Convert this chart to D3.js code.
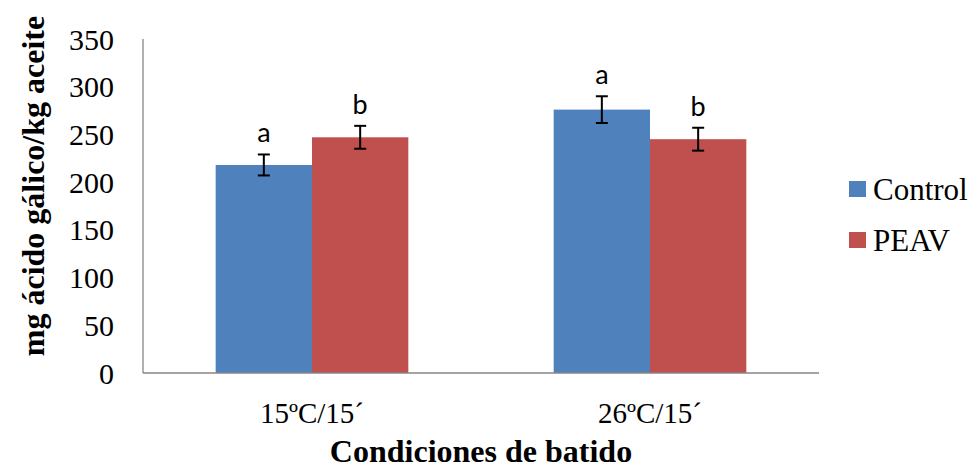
<!DOCTYPE html>
<html>
<head>
<meta charset="utf-8">
<script src="https://cdnjs.cloudflare.com/ajax/libs/d3/7.8.5/d3.min.js"></script>
<style>
  body { margin: 0; background: #fff; }
  svg { display: block; }
</style>
</head>
<body>
<svg id="chart" width="973" height="471"></svg>
<script>
// data
var categories = ["15ºC/15´", "26ºC/15´"];
var seriesNames = ["Control", "PEAV"];
var controlValues = [218, 276];
var peavValues = [247, 245];
var controlErrors = [11, 14];
var peavErrors = [12, 12];
var controlLetters = ["a", "a"];
var peavLetters = ["b", "b"];
var yTicks = [0, 50, 100, 150, 200, 250, 300, 350];
var colors = ["#4F81BD", "#C0504D"];

var serif = "'Liberation Serif', 'Times New Roman', serif";

var svg = d3.select("svg#chart"),
	margin = { top: 39, right: 154, bottom: 98, left: 143 },
	width = 973 - margin.left - margin.right,
	height = 471 - margin.top - margin.bottom;

var g = svg.append("g")
	.attr("transform", "translate(" + margin.left + "," + margin.top + ")");

var x0 = d3.scaleBand().domain(categories).range([0, width]).paddingInner(0.43).paddingOuter(0.215);
var x1 = d3.scaleBand().domain(seriesNames).range([0, x0.bandwidth()]);
var y = d3.scaleLinear().domain([0, 350]).range([height, 0]);

var rows = categories.map(function(c, i) {
	return {
		cat: c,
		items: [
			{ name: "Control", value: controlValues[i], err: controlErrors[i], letter: controlLetters[i] },
			{ name: "PEAV", value: peavValues[i], err: peavErrors[i], letter: peavLetters[i] }
		]
	};
});

// y tick labels
g.selectAll(".ylab")
	.data(yTicks)
	.enter().append("text")
	.attr("x", -29)
	.attr("y", function(d) { return y(d); })
	.attr("dy", "0.35em")
	.attr("text-anchor", "end")
	.style("font-family", serif)
	.style("font-size", "30px")
	.text(function(d) { return d; });

var grp = g.selectAll(".cat")
	.data(rows)
	.enter().append("g")
	.attr("class", "cat")
	.attr("transform", function(d) { return "translate(" + x0(d.cat) + ",0)"; });

grp.selectAll("rect")
	.data(function(d) { return d.items; })
	.enter().append("rect")
	.attr("x", function(d) { return x1(d.name); })
	.attr("y", function(d) { return y(d.value); })
	.attr("width", x1.bandwidth())
	.attr("height", function(d) { return height - y(d.value); })
	.style("fill", function(d, i) { return colors[i]; });

// error bars
var eb = grp.selectAll(".err")
	.data(function(d) { return d.items; })
	.enter().append("g")
	.attr("class", "err")
	.attr("transform", function(d) { return "translate(" + (x1(d.name) + x1.bandwidth() / 2) + ",0)"; });

eb.append("line")
	.attr("x1", 0).attr("x2", 0)
	.attr("y1", function(d) { return y(d.value + d.err); })
	.attr("y2", function(d) { return y(d.value - d.err); });
eb.append("line")
	.attr("x1", -6).attr("x2", 6)
	.attr("y1", function(d) { return y(d.value + d.err); })
	.attr("y2", function(d) { return y(d.value + d.err); });
eb.append("line")
	.attr("x1", -6).attr("x2", 6)
	.attr("y1", function(d) { return y(d.value - d.err); })
	.attr("y2", function(d) { return y(d.value - d.err); });
eb.selectAll("line").style("stroke", "#000").style("stroke-width", 2);

eb.append("text")
	.attr("x", 0)
	.attr("y", function(d) { return y(d.value + d.err) - 12; })
	.attr("text-anchor", "middle")
	.style("font-family", "Lato, 'Open Sans', sans-serif")
	.style("font-size", "27px")
	.text(function(d) { return d.letter; });

// axes lines
g.append("line")
	.attr("x1", 0).attr("x2", 0).attr("y1", 0).attr("y2", height)
	.style("stroke", "#868686").style("stroke-width", 1.3);
g.append("line")
	.attr("x1", 0).attr("x2", width).attr("y1", height).attr("y2", height)
	.style("stroke", "#868686").style("stroke-width", 1.3);

// x tick labels
g.selectAll(".xlab")
	.data(categories)
	.enter().append("text")
	.attr("x", function(d) { return x0(d) + x0.bandwidth() / 2; })
	.attr("y", 423 - margin.top)
	.attr("text-anchor", "middle")
	.style("font-family", serif)
	.style("font-size", "29px")
	.text(function(d) { return d; });

// axis titles
svg.append("text")
	.attr("x", 481)
	.attr("y", 462)
	.attr("text-anchor", "middle")
	.style("font-family", serif)
	.style("font-size", "32px")
	.style("font-weight", "bold")
	.text("Condiciones de batido");

svg.append("text")
	.attr("transform", "translate(44,186) rotate(-90)")
	.attr("text-anchor", "middle")
	.style("font-family", serif)
	.style("font-size", "32px")
	.style("font-weight", "bold")
	.text("mg ácido gálico/kg aceite");

// legend
var legend = svg.selectAll(".legend")
	.data(seriesNames)
	.enter().append("g")
	.attr("class", "legend")
	.attr("transform", function(d, i) { return "translate(849," + (181 + i * 51) + ")"; });
legend.append("rect")
	.attr("width", 17).attr("height", 16)
	.style("fill", function(d, i) { return colors[i]; });
legend.append("text")
	.attr("x", 24).attr("y", 19)
	.style("font-family", serif)
	.style("font-size", "31px")
	.text(function(d) { return d; });
</script>
</body>
</html>
